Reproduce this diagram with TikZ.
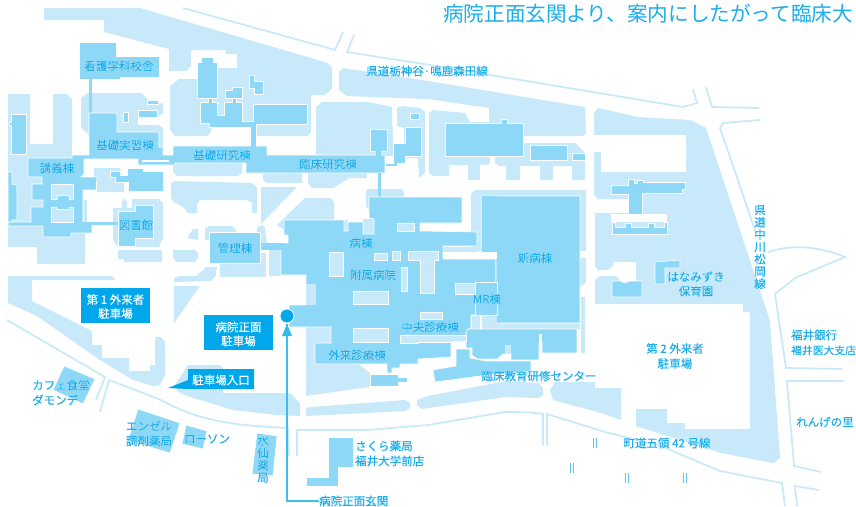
\documentclass[tikz,border=0pt]{standalone}
\usepackage{fontspec}
\setmainfont{Noto Sans CJK JP}
\newfontfamily\halofont[FakeBold=1.4]{Noto Sans CJK JP}
\newfontfamily\inkfont[FakeBold=0.25]{Noto Sans CJK JP}
\definecolor{lt}{HTML}{C7E9FA}
\definecolor{md}{HTML}{8DD7F7}
\definecolor{dk}{HTML}{00A7EA}
\definecolor{tx}{HTML}{1AAEEB}
\definecolor{ar}{HTML}{3CBFF0}
\newcommand\hl[1]{\leavevmode\rlap{\halofont\color{white}#1}{\inkfont #1}}
\newcommand\poly[2]{\path[#1] plot coordinates {#2} -- cycle;}
\tikzset{
  pale/.style={fill=lt},
  blank/.style={fill=white},
  bldg/.style={fill=md,draw=white,line width=.6pt},
  holeb/.style={fill=lt,draw=white,line width=.6pt},
  road/.style={draw=lt,line width=1.7pt,line join=miter},
  lab/.style={inner sep=0pt,text=tx,font=\fontsize{11.5}{15}\selectfont,align=center},
  llab/.style={lab,align=left,anchor=west},
  vlab/.style={lab,font=\fontsize{11.5}{12.3}\selectfont},
  tag/.style={fill=dk},
  wlab/.style={inner sep=0pt,text=white,font=\fontsize{11.5}{14}\inkfont\selectfont,align=center},
}
\begin{document}
\begin{tikzpicture}[x=1pt,y=-1pt]
\useasboundingbox (0,0) rectangle (856,506);
\fill[white] (0,0) rectangle (856,506);
% --- pale grounds
\poly{pale}{(44,8) (44,20) (104,20) (104,32) (169,49) (169,71) (186,71) (191,66) (191,50) (226,50) (226,54) (237,54) (237,68) (218,68) (218,79) (191,79) (179,79) (170,86) (170,130) (175,136) (207,136) (211,132) (211,127) (255,127) (255,136) (307,136) (311,132) (311,95) (325,95) (332,89) (332,68) (328,63) (140,8)}
\poly{pale}{(81,98) (88,93) (142,93) (147,99) (163,104) (163,113) (157,117) (138,117) (138,125) (158,125) (163,128) (163,147) (89,147) (89,135) (81,127)}
\poly{pale}{(8,94) (30,94) (30,144) (53,144) (53,94) (67,94) (72,99) (72,160) (50,160) (50,226) (43,226) (43,237) (70,237) (70,233) (85,233) (85,264) (37,264) (37,247) (8,247)}
\poly{pale}{(94,168) (120,168) (124,180) (124,192) (97,192) (97,177) (94,177)}
\poly{pale}{(113,208) (122,208) (122,202) (124,198) (127,202) (127,208) (132,208) (132,199) (159,199) (163,203) (163,238) (159,247) (118,247) (113,240)}
\poly{pale}{(118,250) (162,250) (162,262) (124,262) (124,259) (118,259)}
\poly{pale}{(171,184) (174,181) (252,183) (257,188) (257,213) (252,213) (252,203) (247,200) (200,200) (197,204) (197,213) (188,213) (183,207) (174,202) (171,198)}
\poly{pale}{(173,163) (242,163) (242,173) (238,176) (177,176) (173,172)}
\poly{pale}{(263,173) (302,173) (302,183) (267,183) (263,180)}
\poly{pale}{(308,173) (367,173) (367,178) (350,178) (333,188) (312,188) (308,183)}
\poly{pale}{(261,187) (297,187) (261,224)}
\poly{pale}{(305,198) (330,198) (334,202) (334,222) (284,222) (284,230) (277,225)}
\poly{pale}{(316,107) (322,102) (368,102) (392,107) (393,143) (393,156) (316,156)}
\poly{pale}{(397,108) (402,106) (420,108) (425,112) (425,173) (419,178) (418,158) (404,158) (404,128) (397,126)}
\poly{pale}{(339,72) (343,68) (428,81) (585,107) (586,133) (583,136) (489,136) (489,108) (428,99) (347,96) (339,90)}
\poly{pale}{(429,113) (433,110) (465,113) (470,122) (490,122) (490,163) (486,165) (449,165) (449,176) (433,176) (429,173)}
\path[pale] (468,160) rectangle (480,180);
\poly{pale}{(495,150) (523,143) (575,143) (578,146) (585,153) (585,180) (572,180) (572,166) (553,166) (553,180) (540,180) (540,166) (520,166) (520,180) (506,180) (506,166) (499,166) (495,163)}
\poly{pale}{(471,194) (475,190) (586,190) (586,251) (471,251)}
\poly{pale}{(580,258) (586,258) (586,282) (582,286) (580,286)}
\path[pale] (581,297) rectangle (585,353);
\poly{pale}{(594,113) (598,108) (638,117) (690,120) (706,128) (770,321) (780,458) (773,463) (721,453) (636,426) (636,409) (667,409) (667,423) (685,423) (685,429) (750,429) (750,312) (743,312) (743,304) (595,304) (595,280) (600,276) (616,276) (620,281) (625,283) (628,281) (636,281) (636,262) (613,262) (613,266) (608,270) (598,270) (595,266) (595,213) (628,213) (628,199) (598,199) (594,195)}
\poly{blank}{(593,135) (686,135) (686,172) (601,172) (601,152) (593,152)}
\path[blank] (611,213.5) rectangle (667,222);
\poly{pale}{(8,276) (112,276) (115,280) (32,280) (32,301) (92,331) (92,345) (102,345) (102,358) (129,358) (129,371) (150,371) (150,365) (155,365) (155,337) (160,337) (165,341) (165,375) (160,385) (153,386) (133,380) (100,360) (37,316) (8,303)}
\poly{pale}{(174,278) (180,276) (196,276) (207,267) (216,267) (216,275) (211,281) (174,282)}
\poly{pale}{(174,286) (200,286) (174,323)}
\path[pale] (205,267) rectangle (217,270);
\poly{pale}{(173,250) (195,250) (198,253) (198,258) (195,262) (177,262) (173,258)}
\poly{pale}{(187,238) (193,229) (198,229) (198,240)}
\poly{pale}{(205,228) (210,226) (232,226) (236,230) (236,240) (205,240)}
\poly{pale}{(257,227) (262,225) (265,228) (267,244) (257,244)}
\path[pale] (220,253) rectangle (266,277);
\path[pale] (269,250) rectangle (281,276);
\poly{pale}{(188,365) (220,365) (223,368) (223,393) (290,393) (300,403) (300,416) (277,415) (233,410) (187,396) (177,391) (175,385)}
\poly{pale}{(306,408) (311,407) (405,400) (410,403) (410,408) (405,411) (306,416)}
\poly{pale}{(417,400) (428,396) (506,381) (538,383) (543,388) (543,395) (538,398) (506,397) (428,408) (422,409) (417,405)}
\poly{pale}{(550,390) (555,382) (595,382) (595,388) (621,388) (621,420) (601,413) (553,400)}
\poly{pale}{(306,280) (317,280) (317,327) (331,327) (331,343) (370,373) (370,387) (306,396)}
\path[pale] (344,220) rectangle (348,232);
\path[pale] (363,219) rectangle (374,234);
\poly{pale}{(366,191) (368,189) (402,189) (404,192) (404,197) (369,197) (369,210) (366,206)}
\path[pale] (482,315) rectangle (500,329);
% --- buildings
\poly{bldg}{(79,42) (116,42) (116,56) (159,56) (159,77) (120,77) (120,79) (79,79)}
\path[fill=md] (89,79) rectangle (92,113);
\poly{bldg}{(89,113) (117,113) (117,132) (159,132) (159,147) (163,147) (163,155) (173,155) (173,146) (267,146) (267,155) (385,155) (385,173) (246,173) (246,163) (175,163) (175,165) (138,165) (138,159) (84,159) (84,174) (81,177) (97,177) (96,190) (83,190) (83,222) (92,222) (92,233) (71,233) (71,237) (43,237) (43,226) (8,226) (8,222) (31,222) (31,207) (43,207) (43,200) (32,200) (32,184) (42,184) (42,177) (28,177) (28,158) (72,158) (72,155) (89,155)}
\path[fill=white] (142,160) rectangle (169,162);
\poly{bldg}{(8,172) (12,172) (12,184) (17,185) (17,220) (12,220) (12,222) (8,222)}
\poly{holeb}{(51,184) (73,184) (73,199) (69,199) (69,195) (57,195) (57,199) (51,199)}
\poly{holeb}{(51,207) (56,207) (56,209) (69,209) (69,207) (73,207) (73,222) (51,222)}
\path[pale] (83.5,200) rectangle (87,222);
\path[fill=md] (83,222) rectangle (118,225);
\poly{bldg}{(11,114) (26,114) (26,154) (11,154) (11,125) (9,125) (9,122) (11,122)}
\poly{bldg}{(147,100) (158,100) (158,104) (147,104)}
\path[bldg] (138,110) rectangle (157,117);
\path[bldg] (123,112) rectangle (128,122);
\poly{bldg}{(127,168) (143,168) (143,171) (163,171) (163,191) (128,191) (128,182) (115,182) (115,177) (110,177) (110,171) (120,171) (120,175) (127,175)}
\poly{bldg}{(118,211) (135,211) (135,205) (153,205) (153,238) (135,238) (135,246) (118,246)}
\poly{bldg}{(197,62) (201,62) (201,57) (213,57) (213,62) (217,62) (217,98) (197,98)}
\poly{bldg}{(225,90) (232,90) (232,87) (242,87) (242,98) (225,98)}
\poly{bldg}{(249,75) (254,75) (254,81) (263,81) (263,94) (254,94) (254,88) (249,88)}
\poly{bldg}{(200,102) (208,102) (208,98) (212,98) (212,102) (217,102) (217,115) (224,115) (224,102) (232,102) (232,98) (236,98) (236,102) (242,102) (242,121) (253,121) (253,104) (307,104) (307,124) (256,124) (256,146) (251,146) (251,127) (209,127) (209,123) (200,123)}
\path[fill=md] (251,124) rectangle (256,147);
\path[bldg] (370,129) rectangle (387,151);
\path[fill=md] (376,151) rectangle (381,156);
\path[bldg] (410,113) rectangle (419,119);
\poly{bldg}{(405,127) (421,127) (421,156) (405,156) (405,163) (397,163) (397,166) (385,166) (385,163) (393,163) (393,143) (405,143)}
\poly{bldg}{(445,123) (501,123) (501,119) (507,119) (507,123) (523,123) (523,156) (445,156)}
\path[bldg] (530,145) rectangle (567,160);
\path[bldg] (572,153) rectangle (585,160);
\poly{bldg}{(611,185) (628,185) (628,179) (634,179) (634,183) (637,183) (637,180) (643,180) (643,182) (685,182) (685,189) (682,189) (682,193) (642,193) (642,214) (628,214) (628,194) (611,194)}
\poly{bldg}{(612,222) (615,222) (615,227) (625,227) (625,223) (631,223) (631,227) (648,227) (648,223) (654,223) (654,227) (664,227) (664,222) (667,222) (667,234) (612,234)}
\poly{bldg}{(655,262) (680,260) (680,268) (665,268) (665,284) (655,284)}
\poly{bldg}{(612,281) (620,281) (625,283) (630,281) (642,281) (642,297) (612,297)}
\path[fill=md] (378,173) rectangle (381,198);
% main hospital
\poly{bldg}{(284,220) (344,220) (344,231) (348,231) (348,222) (363,222) (363,234) (374,234) (374,219) (369,218) (369,197) (462,197) (462,223) (420,223) (420,231) (477,232) (477,246) (443,246) (443,259) (496,259) (496,315) (471,315) (471,329) (468,329) (466,333) (466,342) (451,342) (451,357) (418,359) (418,364) (400,364) (400,368) (392,368) (392,373) (387,373) (387,364) (315,364) (315,343) (331,343) (331,327) (289,327) (289,305) (306,305) (306,275) (281,275) (281,243) (288,243) (288,235) (284,235)}
\path[pale] (306,284) rectangle (316,305);
\poly{bldg}{(370,374) (398,374) (398,377) (407,377) (407,382) (398,382) (398,386) (370,386)}
\path[fill=md] (260,243) rectangle (285,250);
\path[bldg] (209,232) rectangle (260,263);
\poly{bldg}{(482,196) (580,196) (580,323) (496,323) (496,259) (482,252)}
\path[fill=md] (482,196) rectangle (497,252);
\path[blank] (443,252) rectangle (497,259);
\path[pale] (443,247) rectangle (478,252);
\path[holeb] (455,283) rectangle (475,294);
\path[bldg] (475,282) rectangle (497,315);
\path[pale] (471.5,315.5) rectangle (480,329);
\poly{pale}{(482,315.5) (496,315.5) (496,323.5) (580,323.5) (580,329) (482,329)}
\poly{bldg}{(466,333) (468,329) (577,329) (577,353) (542,353) (542,342) (539,342) (539,360) (511,360) (511,354) (503,354) (497,359) (477,359) (472,355) (472,348) (466,348)}
\path[blank] (539,334) rectangle (542,342);
\path[pale] (505,345) rectangle (511,354);
\poly{bldg}{(433,370) (456,366) (456,349) (470,349) (470,358) (486,361) (531,361) (531,371) (480,376) (435,382)}
\poly{holeb}{(400,335) (466,335) (466,341) (452,341) (452,342) (418,342) (418,343) (400,343)}
\path[holeb] (329,252) rectangle (343,276);
\path[holeb] (374,253) rectangle (387,260);
\path[holeb] (392,251) rectangle (400,260);
\poly{holeb}{(408,251) (438,251) (438,260) (434,260) (434,293) (420,293) (420,260) (408,260)}
\path[holeb] (401,267) rectangle (407,291);
\path[holeb] (397,223) rectangle (414,231);
\path[holeb] (353,291) rectangle (388,304);
\path[holeb] (353,328) rectangle (388,342);
\path[holeb] (420,312) rectangle (442,319);
\path[blank] (420,223.5) rectangle (440,230.5);
% outlying buildings
\poly{bldg}{(64,366) (95,379) (83,404) (53,390)}
\poly{bldg}{(138,409) (180,423) (170,453) (128,440)}
\poly{bldg}{(186,425) (207,431) (203,449) (182,444)}
\poly{bldg}{(257,433) (277,436) (273,476) (252,474)}
\poly{bldg}{(328,437) (353,437) (353,467) (338,467) (338,486) (306,486) (306,477) (328,477)}
% --- roads
\draw[road] (183,8) -- (335,50) -- (343,32);
\draw[road] (354,35) -- (347,52) -- (430,65) -- (683,107) -- (697,103) -- (693,89);
\draw[road] (706,87) -- (712,107) -- (759,108);
\draw[road] (760,120) -- (723,123) -- (720,128) -- (756,233);
\draw[road] (768,252) .. controls (790,245) and (815,245) .. (845,257) -- (795,278) -- (775,294) -- (786,368) -- (842,369);
\draw[road] (844,381) -- (787,381) -- (794,466) -- (821,472);
\draw[road] (819,490) -- (795,486) -- (797,506);
\draw[road] (547,445) -- (547,414) -- (605,432) -- (661,446) -- (720,471) -- (782,483) -- (785,506);
\draw[road] (543,445) -- (543,414) .. controls (530,412) and (520,412) .. (505,412) -- (428,425) -- (367,430) -- (297,430) -- (297,456);
\draw[road] (289,456) -- (288,428) .. controls (250,426) and (205,424) .. (167,403) .. controls (150,395) and (130,388) .. (109,380) -- (100,412);
\draw[road] (96,400) -- (105,377) -- (7,320);
\foreach \px/\py in {595/443,572/468,627/478,685/478}{
  \draw[draw=tx!70,line width=.7pt] (\px-1.5,\py-5) -- (\px-1.5,\py+5) (\px+1.5,\py-5) -- (\px+1.5,\py+5);
}
% --- tags
\path[tag] (81,288) rectangle (150,323);
\path[tag] (204,315) rectangle (273,350);
\poly{tag}{(188,369) (254,369) (254,389) (188,389) (168,388) (188,380)}
% --- entrance marker and pointer
\node[circle,fill=dk,draw=white,line width=.8pt,minimum size=14pt,inner sep=0pt] (entrance) at (287,316) {};
\node[lab,anchor=west] (entlab) at (319,501) {\hl{病院正面玄関}};
\coordinate (bend) at (287,501);
\coordinate (tip) at (287,324);
\draw[draw=ar,line width=1.2pt] (entlab.west) -- (bend) -- (tip);
\fill[dk!80!white] (tip) -- (292,336) -- (282,336) -- cycle;
% --- labels
\node[anchor=west,inner sep=0pt,text=tx,font=\fontsize{20.6}{24}\selectfont] (title) at (443,14) {病院正面玄関より、案内にしたがって臨床大};
\node[lab] (n1) at (119,66) {\hl{看護学科校舎}};
\node[lab] (n2) at (125,145) {\hl{基礎実習棟}};
\node[lab] (n3) at (57,168) {\hl{講義棟}};
\node[lab] (n4) at (222,155) {\hl{基礎研究棟}};
\node[lab] (n5) at (328,164) {\hl{臨床研究棟}};
\node[lab] (n6) at (136,225) {\hl{図書館}};
\node[lab] (n7) at (235,248) {\hl{管理棟}};
\node[lab] (n8) at (361,243) {\hl{病棟}};
\node[lab] (n9) at (373,275) {\hl{附属病院}};
\node[lab] (n10) at (535,258) {\hl{新病棟}};
\node[lab] (n11) at (487,299) {\hl{MR棟}};
\node[lab] (n12) at (430,327) {\hl{中央診療棟}};
\node[lab] (n13) at (357,355) {\hl{外来診療棟}};
\node[lab] (n14) at (539,376) {\hl{臨床教育研修センター}};
\node[lab] (n15) at (427,71) {\hl{県道栃神谷·鳴鹿森田線}};
\node[vlab] (n16) at (760,247) {\hl{県}\\\hl{道}\\\hl{中}\\\hl{川}\\\hl{松}\\\hl{岡}\\\hl{線}};
\node[lab] (n17) at (696,284) {\hl{はなみずき}\\[-.5pt]\hl{保育園}};
\node[lab] (n18) at (675,356) {{\inkfont 第 2 外来者}\\{\inkfont 駐車場}};
\node[llab] (n19) at (791,342.5) {{\inkfont 福井銀行}\\{\inkfont\fontsize{10.8}{15}\selectfont 福井医大支店}};
\node[llab] (n20) at (796,422) {{\inkfont れんげの里}};
\node[lab] (n21) at (667,443) {\hl{町道五領 42 号線}};
\node[llab] (n22) at (355,453.5) {\hl{さくら薬局}\\\hl{福井大学前店}};
\node[vlab] (n23) at (263,459) {\hl{水}\\\hl{仙}\\\hl{薬}\\\hl{局}};
\node[lab] (n24) at (207,439) {\hl{ローソン}};
\node[lab] (n25) at (149,433.5) {\hl{エンゼル}\\\hl{調剤薬局}};
\node[llab] (n26) at (32,392.5) {\hl{カフェ食堂}\\\hl{ダモンデ}};
\node[wlab] (t1) at (115.5,306.5) {第 1 外来者\\駐車場};
\node[wlab] (t2) at (238.5,334) {病院正面\\駐車場};
\node[wlab] (t3) at (221,380) {駐車場入口};
\end{tikzpicture}
\end{document}
